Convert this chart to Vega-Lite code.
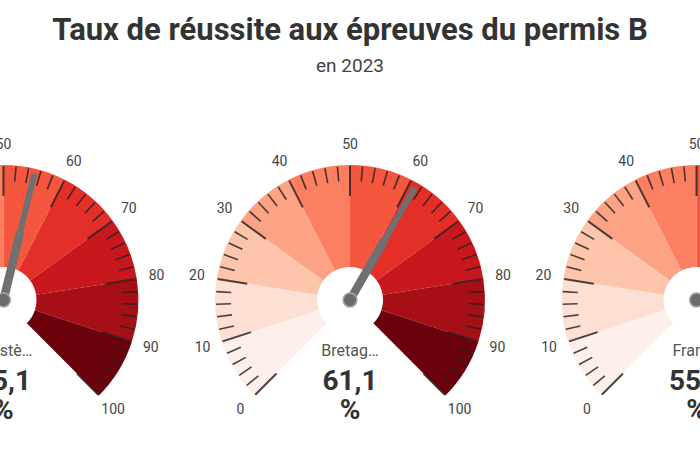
{
  "$schema": "https://vega.github.io/schema/vega-lite/v6.json",
  "width": 700,
  "height": 370,
  "autosize": {"type": "none"},
  "padding": {"top": 80, "left": 0, "right": 0, "bottom": 0},
  "background": "white",
  "title": {
    "text": "Taux de réussite aux épreuves du permis B",
    "subtitle": "en 2023",
    "anchor": "middle",
    "font": "Roboto",
    "fontSize": 31,
    "fontWeight": "bold",
    "color": "#333333",
    "subtitleFont": "Roboto",
    "subtitleFontSize": 19,
    "subtitleColor": "#444444",
    "subtitlePadding": 10,
    "offset": 3
  },
  "config": {
    "view": {"stroke": null},
    "locale": {"number": {"decimal": ",", "thousands": " ", "grouping": [3], "currency": ["", " €"]}}
  },
  "datasets": {
    "gauges": [
      {"pos": 0, "region": "Finistère", "value": 55.1},
      {"pos": 1, "region": "Bretagne", "value": 61.1},
      {"pos": 2, "region": "France", "value": 55.3}
    ],
    "bands": [
      {"lo": 0, "hi": 10},
      {"lo": 10, "hi": 20},
      {"lo": 20, "hi": 30},
      {"lo": 30, "hi": 40},
      {"lo": 40, "hi": 50},
      {"lo": 50, "hi": 60},
      {"lo": 60, "hi": 70},
      {"lo": 70, "hi": 80},
      {"lo": 80, "hi": 90},
      {"lo": 90, "hi": 100}
    ],
    "minor": [
      {"v": 2}, {"v": 4}, {"v": 6}, {"v": 8},
      {"v": 12}, {"v": 14}, {"v": 16}, {"v": 18},
      {"v": 22}, {"v": 24}, {"v": 26}, {"v": 28},
      {"v": 32}, {"v": 34}, {"v": 36}, {"v": 38},
      {"v": 42}, {"v": 44}, {"v": 46}, {"v": 48},
      {"v": 52}, {"v": 54}, {"v": 56}, {"v": 58},
      {"v": 62}, {"v": 64}, {"v": 66}, {"v": 68},
      {"v": 72}, {"v": 74}, {"v": 76}, {"v": 78},
      {"v": 82}, {"v": 84}, {"v": 86}, {"v": 88},
      {"v": 92}, {"v": 94}, {"v": 96}, {"v": 98}
    ],
    "major": [
      {"v": 0}, {"v": 10}, {"v": 20}, {"v": 30}, {"v": 40}, {"v": 50},
      {"v": 60}, {"v": 70}, {"v": 80}, {"v": 90}, {"v": 100}
    ]
  },
  "encoding": {
    "y": {"datum": 0, "type": "quantitative", "scale": {"domain": [-150, 220], "zero": false, "nice": false}, "axis": null}
  },
  "layer": [
    {"data": {"name": "bands"}, "mark": {"type": "arc", "innerRadius": 33, "outerRadius": 135},
     "encoding": {"x": {"datum": 0, "type": "quantitative", "scale": {"domain": [-0.01, 2.01], "zero": false, "nice": false}, "axis": null},
       "theta": {"field": "lo", "type": "quantitative", "scale": {"domain": [0, 100], "range": [-2.35619, 2.35619]}}, "theta2": {"field": "hi"},
       "color": {"field": "lo", "type": "ordinal", "legend": null, "scale": {"domain": [0, 10, 20, 30, 40, 50, 60, 70, 80, 90], "range": ["#fdf0ea", "#fde0d3", "#fcc5ac", "#fca385", "#fb7f60", "#f5573e", "#e32f28", "#c9181d", "#a50f15", "#6c010e"]}}}},
    {"data": {"name": "bands"}, "mark": {"type": "arc", "innerRadius": 33, "outerRadius": 135},
     "encoding": {"x": {"datum": 1, "type": "quantitative"},
       "theta": {"field": "lo", "type": "quantitative"}, "theta2": {"field": "hi"},
       "color": {"field": "lo", "type": "ordinal", "legend": null}}},
    {"data": {"name": "bands"}, "mark": {"type": "arc", "innerRadius": 33, "outerRadius": 135},
     "encoding": {"x": {"datum": 2, "type": "quantitative"},
       "theta": {"field": "lo", "type": "quantitative"}, "theta2": {"field": "hi"},
       "color": {"field": "lo", "type": "ordinal", "legend": null}}},

    {"data": {"name": "minor"}, "mark": {"type": "arc", "innerRadius": 119, "outerRadius": 134, "stroke": "#2e2222", "strokeWidth": 1.6, "strokeOpacity": 0.85, "fillOpacity": 0},
     "encoding": {"x": {"datum": 0, "type": "quantitative"}, "theta": {"field": "v", "type": "quantitative"}, "theta2": {"field": "v"}}},
    {"data": {"name": "minor"}, "mark": {"type": "arc", "innerRadius": 119, "outerRadius": 134, "stroke": "#2e2222", "strokeWidth": 1.6, "strokeOpacity": 0.85, "fillOpacity": 0},
     "encoding": {"x": {"datum": 1, "type": "quantitative"}, "theta": {"field": "v", "type": "quantitative"}, "theta2": {"field": "v"}}},
    {"data": {"name": "minor"}, "mark": {"type": "arc", "innerRadius": 119, "outerRadius": 134, "stroke": "#2e2222", "strokeWidth": 1.6, "strokeOpacity": 0.85, "fillOpacity": 0},
     "encoding": {"x": {"datum": 2, "type": "quantitative"}, "theta": {"field": "v", "type": "quantitative"}, "theta2": {"field": "v"}}},

    {"data": {"name": "major"}, "mark": {"type": "arc", "innerRadius": 104, "outerRadius": 134, "stroke": "#2e2222", "strokeWidth": 2, "strokeOpacity": 0.85, "fillOpacity": 0},
     "encoding": {"x": {"datum": 0, "type": "quantitative"}, "theta": {"field": "v", "type": "quantitative"}, "theta2": {"field": "v"}}},
    {"data": {"name": "major"}, "mark": {"type": "arc", "innerRadius": 104, "outerRadius": 134, "stroke": "#2e2222", "strokeWidth": 2, "strokeOpacity": 0.85, "fillOpacity": 0},
     "encoding": {"x": {"datum": 1, "type": "quantitative"}, "theta": {"field": "v", "type": "quantitative"}, "theta2": {"field": "v"}}},
    {"data": {"name": "major"}, "mark": {"type": "arc", "innerRadius": 104, "outerRadius": 134, "stroke": "#2e2222", "strokeWidth": 2, "strokeOpacity": 0.85, "fillOpacity": 0},
     "encoding": {"x": {"datum": 2, "type": "quantitative"}, "theta": {"field": "v", "type": "quantitative"}, "theta2": {"field": "v"}}},

    {"data": {"name": "major"}, "mark": {"type": "text", "radius": 155, "font": "Roboto", "fontSize": 14, "color": "#444444", "align": "center", "baseline": "middle"},
     "encoding": {"x": {"datum": 0, "type": "quantitative"}, "theta": {"field": "v", "type": "quantitative"}, "text": {"field": "v", "type": "quantitative", "format": "d"}}},
    {"data": {"name": "major"}, "mark": {"type": "text", "radius": 155, "font": "Roboto", "fontSize": 14, "color": "#444444", "align": "center", "baseline": "middle"},
     "encoding": {"x": {"datum": 1, "type": "quantitative"}, "theta": {"field": "v", "type": "quantitative"}, "text": {"field": "v", "type": "quantitative", "format": "d"}}},
    {"data": {"name": "major"}, "mark": {"type": "text", "radius": 155, "font": "Roboto", "fontSize": 14, "color": "#444444", "align": "center", "baseline": "middle"},
     "encoding": {"x": {"datum": 2, "type": "quantitative"}, "theta": {"field": "v", "type": "quantitative"}, "text": {"field": "v", "type": "quantitative", "format": "d"}}},

    {"data": {"name": "gauges"}, "mark": {"type": "arc", "innerRadius": 0, "outerRadius": 70, "stroke": "#707070", "strokeWidth": 8.5, "strokeCap": "round", "fillOpacity": 0},
     "encoding": {"x": {"field": "pos", "type": "quantitative"}, "theta": {"field": "value", "type": "quantitative"}, "theta2": {"field": "value"}}},
    {"data": {"name": "gauges"}, "mark": {"type": "arc", "innerRadius": 0, "outerRadius": 130, "stroke": "#707070", "strokeWidth": 6, "strokeCap": "round", "fillOpacity": 0},
     "encoding": {"x": {"field": "pos", "type": "quantitative"}, "theta": {"field": "value", "type": "quantitative"}, "theta2": {"field": "value"}}},
    {"data": {"name": "gauges"}, "mark": {"type": "point", "filled": true, "size": 190, "fill": "#6b6b6b", "stroke": "#a5a5a5", "strokeWidth": 1.5, "opacity": 1},
     "encoding": {"x": {"field": "pos", "type": "quantitative"}}},
    {"data": {"name": "gauges"}, "mark": {"type": "text", "dy": 51, "font": "Roboto", "fontSize": 16, "color": "#555555", "limit": 60, "align": "center", "baseline": "middle"},
     "encoding": {"x": {"field": "pos", "type": "quantitative"}, "text": {"field": "region", "type": "nominal"}}},
    {"data": {"name": "gauges"}, "mark": {"type": "text", "dy": 82, "font": "Roboto", "fontSize": 28, "fontWeight": "bold", "color": "#333333", "align": "center", "baseline": "middle"},
     "encoding": {"x": {"field": "pos", "type": "quantitative"}, "text": {"field": "value", "type": "quantitative", "format": ".1f"}}},
    {"data": {"name": "gauges"}, "mark": {"type": "text", "dy": 111, "font": "Roboto", "fontSize": 28, "fontWeight": "bold", "color": "#333333", "align": "center", "baseline": "middle"},
     "encoding": {"x": {"field": "pos", "type": "quantitative"}, "text": {"value": "%"}}}
  ]
}
